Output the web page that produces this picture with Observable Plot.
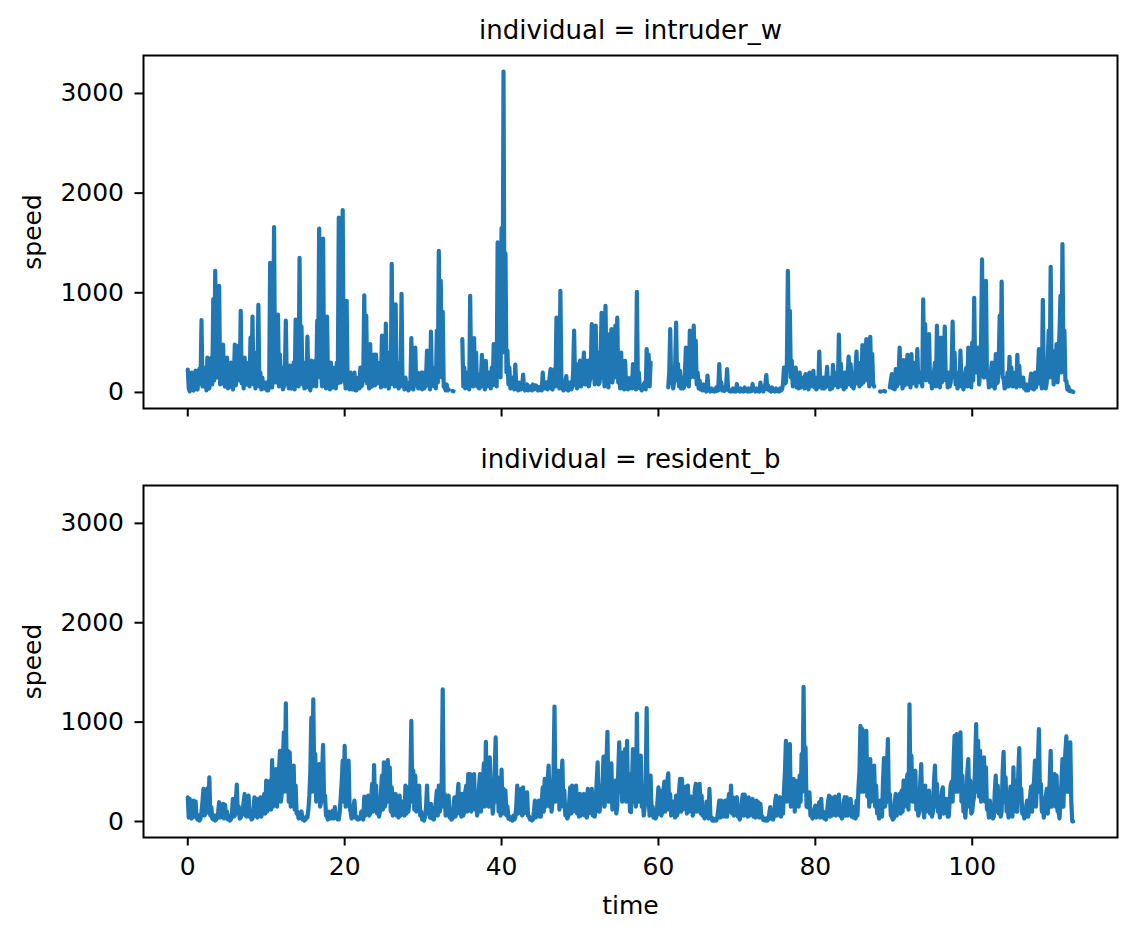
<!DOCTYPE html>
<html><head><meta charset="utf-8">
<script src="https://cdn.jsdelivr.net/npm/d3@7"></script>
<script src="https://cdn.jsdelivr.net/npm/@observablehq/plot@0.6"></script>
<style>
html,body{margin:0;padding:0;background:#fff;}
#chart{position:relative;width:1135px;height:940px;font-family:"DejaVu Sans",sans-serif;}
#chart svg{position:absolute;left:0;}
</style></head><body><div id="chart"></div>
<script>
const individuals = ["intruder_w", "resident_b"];
const timeStart = 0;
const timeStep = 0.125;
const xTicks = [0, 20, 40, 60, 80, 100];
const yTicks = [0, 1000, 2000, 3000];
const xLabel = "time";
const yLabel = "speed";

// intruder_w speed, 8 samples per time unit (null = missing)
const intruderSpeed = [
230,40,10,150,200,30,20,120, 220,50,30,180,240,90,725,60,
60,140,250,20,350,60,40,200, 350,80,936,120,1220,300,150,500,
1070,80,100,250,480,90,60,200, 350,40,120,260,300,60,30,150,
480,70,140,300,470,120,820,90, 200,40,350,110,80,180,300,60,
550,130,760,80,250,40,400,100, 880,60,200,30,150,70,40,90,
100,20,20,60,1300,90,50,200, 1660,150,100,300,780,60,380,100,
250,30,60,180,720,80,200,40, 270,60,40,150,300,30,730,100,
200,60,1350,200,660,80,150,40, 300,50,560,100,80,20,320,60,
100,200,320,60,720,300,1645,150, 200,60,1545,200,300,40,760,90,
100,30,300,60,50,150,250,40, 300,90,1755,100,100,600,1830,150,
150,40,920,100,100,30,200,60, 30,120,200,20,20,80,150,40,
250,60,80,200,975,120,770,90, 150,40,485,80,60,200,380,70,
380,90,100,200,300,50,570,100, 200,60,690,120,150,40,400,80,
1290,100,200,60,885,90,150,40, 300,60,990,80,100,30,150,40,
50,20,100,40,545,60,30,150, 450,70,200,40,150,60,200,30,
200,40,60,150,420,70,100,30, 610,90,250,60,200,40,620,100,
1420,300,1120,150,810,60,50,20, 80,20,30,null,null,null,15,12,
null,null,null,null,null,null,null,null, 535,60,250,40,200,90,100,30,
970,120,150,60,545,100,400,60, 180,40,50,150,378,60,100,30,
318,60,80,200,150,40,250,70, 485,80,200,60,1505,300,620,150,
1650,400,3220,500,1395,200,420,80, 250,40,50,120,150,30,280,60,
50,20,100,30,30,60,180,40, 20,50,80,20,30,60,50,20,
80,30,40,70,60,20,20,50, 60,20,200,40,40,80,100,30,
60,150,235,40,30,120,235,60, 750,100,150,40,1020,150,50,20,
30,80,165,30,20,60,100,30, 50,200,620,80,100,40,285,60,
320,60,100,250,400,80,80,200, 320,60,120,250,685,150,300,80,
670,200,400,80,100,300,800,150, 300,60,870,200,200,50,585,120,
635,100,200,300,670,150,750,100, 150,40,400,80,100,30,318,60,
150,30,60,100,150,40,285,60, 100,30,1010,100,200,40,50,20,
50,80,100,30,435,100,380,60, 300,null,null,null,null,null,null,null,
null,null,null,null,null,null,null,null, null,null,50,200,635,100,150,40,
100,250,700,120,285,60,217,40, 150,40,50,200,450,80,350,60,
620,150,200,300,670,150,520,80, 200,40,120,30,50,20,80,20,
30,10,168,30,30,10,40,15, 20,10,40,15,60,20,285,50,
100,20,50,15,20,60,235,30, 20,10,10,30,40,10,20,10,
85,20,20,10,40,15,30,10, 50,15,20,10,40,10,30,15,
85,20,30,10,40,15,20,10, 100,25,30,10,50,80,175,30,
67,20,20,10,50,15,30,10, 40,15,20,10,40,20,30,80,
250,90,100,300,1220,400,820,150, 318,60,100,200,250,50,150,40,
200,50,60,120,150,40,185,60, 100,30,200,60,80,150,217,50,
100,30,150,50,410,80,150,40, 150,40,50,120,257,60,100,30,
150,40,278,70,80,150,200,50, 580,100,290,60,100,30,200,50,
100,200,360,80,285,60,150,40, 100,250,410,90,200,60,300,80,
475,100,200,300,535,120,250,60, 558,150,385,80,60,null,null,null,
null,null,10,8,null,null,15,10, null,null,null,null,50,120,185,40,
100,30,235,60,80,200,450,90, 150,40,325,70,100,250,378,80,
200,50,385,90,100,200,300,60, 435,100,100,200,200,60,935,150,
685,120,200,300,585,100,150,40, 100,200,300,60,670,150,200,50,
550,100,150,300,660,120,200,50, 200,60,100,250,710,150,400,80,
150,40,200,60,420,90,100,30, 100,200,250,60,450,100,200,50,
500,120,950,200,200,300,450,80, 200,500,1335,200,150,400,1120,150,
200,50,100,200,300,60,150,40, 385,90,100,300,770,200,1113,150,
150,40,50,100,200,60,358,80, 250,60,100,150,200,50,378,80,
268,60,80,150,150,40,60,20, 80,20,50,100,190,40,150,30,
200,50,100,200,435,90,150,40, 930,150,150,40,100,300,620,150,
1260,200,418,80,200,300,485,100, 300,600,970,200,1488,300,620,120,
117,30,60,15,20,10,10,5
];

// resident_b speed, 8 samples per time unit
const residentSpeed = [
244,40,227,80,30,120,210,50, 200,40,20,60,10,30,100,200,
328,60,80,200,334,90,445,60, 144,30,20,60,10,20,40,100,
194,40,50,120,177,30,167,50, 100,20,40,10,20,80,227,50,
60,200,371,80,150,30,40,70, 100,200,277,60,50,150,260,50,
100,20,30,120,244,60,227,40, 60,180,244,50,100,200,277,80,
411,100,150,300,411,120,618,150, 200,400,528,150,300,500,712,200,
300,600,896,300,1190,400,712,200, 695,150,300,450,562,120,361,80,
100,30,50,80,100,20,30,10, 20,50,40,120,260,500,1046,300,
1230,400,679,200,300,450,578,150, 200,500,772,200,260,60,50,20,
100,30,30,60,110,30,144,40, 50,20,20,100,244,400,612,200,
762,150,250,400,612,150,100,30, 40,150,210,40,50,20,20,40,
30,100,60,20,250,60,100,200, 260,60,80,200,378,100,568,150,
361,80,200,50,100,300,461,120, 595,150,200,400,618,200,545,100,
344,60,100,200,277,60,150,40, 260,60,100,200,200,60,361,80,
344,100,200,400,1013,200,511,120, 461,100,150,300,361,60,100,20,
30,10,50,150,361,80,150,40, 177,30,50,20,100,200,311,60,
361,100,150,400,1330,150,277,60, 100,200,260,40,50,20,30,150,
244,50,100,250,378,80,200,50, 277,60,100,300,361,100,478,120,
478,100,150,350,478,120,300,60, 100,350,478,100,250,400,585,150,
802,200,528,150,645,200,300,80, 200,500,846,200,445,100,200,60,
522,120,328,80,311,60,150,30, 50,20,30,10,60,20,40,150,
361,80,150,250,328,60,344,80, 150,200,294,60,50,20,20,10,
20,100,210,40,60,150,210,50, 50,200,344,100,428,150,200,400,
562,150,411,100,200,500,1157,200, 300,400,511,120,340,400,612,150,
311,60,100,30,50,200,344,80, 361,100,150,250,361,80,200,50,
277,60,100,200,277,60,150,40, 328,80,100,250,328,60,200,50,
200,400,595,100,100,200,260,400, 652,150,300,600,903,200,200,400,
585,120,200,300,411,80,150,500, 796,300,695,200,400,600,729,200,
812,200,478,100,94,400,729,200, 400,150,1086,300,200,500,662,150,
210,60,150,400,1140,200,210,60, 461,100,150,40,100,30,50,200,
344,80,311,60,100,300,401,100, 200,400,485,120,277,60,150,200,
150,40,260,60,100,300,428,100, 428,120,150,300,351,80,361,100,
150,250,244,60,100,300,378,100, 200,300,378,80,260,60,100,30,
50,200,100,30,328,60,30,10, 30,10,20,10,40,120,210,40,
210,60,50,150,210,50,50,200, 277,100,361,80,244,60,100,200,
244,50,50,20,100,200,271,60, 271,80,200,50,244,60,100,200,
227,50,150,40,210,60,194,40, 177,40,50,15,20,10,30,10,
20,80,144,30,50,20,60,200, 260,60,100,200,244,50,210,80,
304,500,812,200,300,600,779,150, 244,350,428,100,300,400,411,150,
461,200,679,300,1354,400,745,150, 144,250,294,60,100,30,50,120,
160,40,50,150,194,40,227,50, 100,30,50,20,100,200,260,50,
244,60,100,200,250,60,150,200, 271,60,100,30,50,200,244,60,
244,60,100,200,227,50,150,40, 100,30,210,60,344,500,963,300,
929,300,400,700,913,250,545,150, 628,200,300,450,562,150,361,80,
144,30,210,50,50,400,638,150, 200,500,829,200,277,60,50,20,
30,200,277,60,100,250,277,80, 311,100,411,150,200,400,478,120,
1180,300,662,200,200,400,511,120, 200,60,100,400,578,150,150,40,
361,100,150,250,311,80,200,50, 100,400,562,150,378,100,150,40,
150,300,344,80,100,200,227,50, 50,200,361,400,200,600,862,300,
879,300,400,700,896,200,461,100, 150,40,200,500,628,150,411,80,
100,200,250,600,979,300,812,250, 712,200,300,500,645,200,545,120,
150,40,210,60,100,30,50,300, 461,100,361,80,200,50,100,500,
702,200,445,100,150,40,200,350, 200,50,545,120,411,100,100,500,
739,200,328,80,100,30,50,150, 210,50,100,250,351,100,345,400,
612,150,394,600,929,300,378,100, 150,40,200,250,328,80,200,400,
712,150,200,400,478,150,461,100, 100,30,200,400,628,150,511,700,
856,300,300,600,796,200,0,0
];

const C0 = "#1f77b4";
const toRows = values => values.map((v, i) => ({time: timeStart + i * timeStep, speed: v}));
const isolated = data => data.filter((d, i) => d.speed != null &&
  (i === 0 || data[i - 1].speed == null) && (i === data.length - 1 || data[i + 1].speed == null));

const lastT = timeStart + (Math.max(intruderSpeed.length, residentSpeed.length) - 1) * timeStep;
const maxV = d3.max([...intruderSpeed, ...residentSpeed].filter(v => v != null));
const xPad = 0.05 * (lastT - timeStart);
const yPad = 0.05 * maxV;

function panel(name, values, cfg) {
  const data = toRows(values);
  const fs = 25;
  const marks = [
    Plot.line(data, {x: "time", y: "speed", stroke: C0, strokeWidth: 4.2, strokeLinejoin: "round", strokeLinecap: "round"}),
    Plot.dot(isolated(data), {x: "time", y: "speed", r: 2.1, fill: C0}),
    Plot.axisY({ticks: yTicks, tickFormat: "d", tickSize: 8.5, tickPadding: 11, strokeWidth: 2, fontSize: fs, label: null}),
    Plot.axisX({ticks: xTicks, tickFormat: cfg.showX ? "d" : () => "", tickSize: 8.5, tickPadding: 11, strokeWidth: 2, fontSize: fs, label: null}),
    Plot.frame({stroke: "black", strokeWidth: 2}),
    Plot.text([name], {text: d => `individual = ${d}`, frameAnchor: "top", dy: cfg.titleDy, lineAnchor: "middle", fontSize: 26}),
    Plot.text([yLabel], {text: d => d, frameAnchor: "left", rotate: -90, dx: -110.5, lineAnchor: "middle", textAnchor: "middle", fontSize: fs})
  ];
  if (cfg.showX) {
    marks.push(Plot.text([xLabel], {text: d => d, frameAnchor: "bottom", dy: 68, lineAnchor: "middle", fontSize: fs}));
  }
  const svg = Plot.plot({
    width: 1135, height: cfg.height,
    marginLeft: 143, marginRight: 18, marginTop: cfg.mt, marginBottom: cfg.mb,
    style: {fontFamily: "DejaVu Sans, sans-serif", fontSize: fs + "px", color: "black", background: "white", overflow: "visible"},
    x: {domain: [timeStart - xPad, lastT + xPad]},
    y: {domain: [-yPad, maxV + yPad]},
    marks
  });
  svg.style.top = cfg.top + "px";
  return svg;
}

const chart = document.getElementById("chart");
chart.appendChild(panel(individuals[0], intruderSpeed, {top: 0, height: 440, mt: 55, mb: 32, showX: false, titleDy: -25}));
chart.appendChild(panel(individuals[1], residentSpeed, {top: 440, height: 500, mt: 45, mb: 103, showX: true, titleDy: -26}));
</script>
</body></html>
